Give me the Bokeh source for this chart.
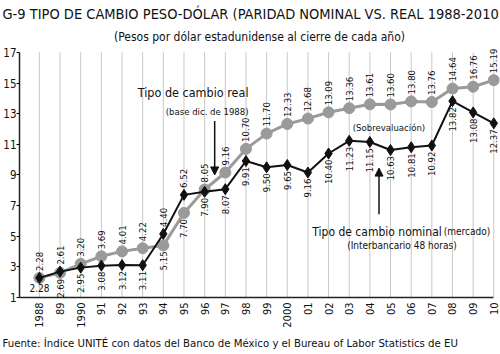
from math import pi
from bokeh.plotting import figure
from bokeh.models import (ColumnDataSource, LabelSet, Label, Arrow, NormalHead,
                          FixedTicker, Range1d, Title)
from bokeh.core.properties import value
from bokeh.embed import file_html
from bokeh.resources import INLINE

# ---------------- data ----------------
years = list(range(1988, 2011))
tick_labels = ['1988', '89', '1990', '91', '92', '93', '94', '95', '96', '97', '98',
               '99', '2000', '01', '02', '03', '04', '05', '06', '07', '08', '09', '10']
real = [2.28, 2.61, 3.20, 3.69, 4.01, 4.22, 4.40, 6.52, 8.05, 9.16, 10.70, 11.70,
        12.33, 12.68, 13.09, 13.36, 13.61, 13.60, 13.80, 13.76, 14.64, 14.76, 15.19]
real_labels = ['2.28', '2.61', '3.20', '3.69', '4.01', '4.22', '4.40', '6.52', '8.05',
               '9.16', '10.70', '11.70', '12.33', '12.68', '13.09', '13.36', '13.61',
               '13.60', '13.80', '13.76', '14.64', '16.76', '15.19']
nominal = [2.28, 2.69, 2.95, 3.08, 3.12, 3.11, 5.15, 7.70, 7.90, 8.07, 9.91, 9.50,
           9.65, 9.16, 10.40, 11.23, 11.15, 10.63, 10.81, 10.92, 13.82, 13.08, 12.37]
nominal_labels = ['2.28', '2.69', '2.95', '3.08', '3.12', '3.11', '5.15', '7.70', '7.90',
                  '8.07', '9.91', '9.50', '9.65', '9.16', '10.40', '11.23', '11.15',
                  '10.63', '10.81', '10.92', '13.82', '13.08', '12.37']
y_ticks = [1, 3, 5, 7, 9, 11, 13, 15, 17]

FONT = "DejaVu Sans Condensed, Roboto, sans-serif"
GRAY = "#9a9a9a"
BLACK = "#111111"

W, H = 500, 354
LEFT, RIGHT, TOP, BOTTOM = 17, 1, 47, 52
PXX = 20.74          # pixels per year
PXY = 15.625         # pixels per peso
X0 = 1988 - (37 - LEFT) / PXX
X1 = X0 + (W - LEFT - RIGHT) / PXX
Y0 = 1.0
Y1 = Y0 + (H - TOP - BOTTOM) / PXY


def dx(px):
    return X0 + (px - LEFT) / PXX


def dy(py):
    return Y0 + (H - BOTTOM - py) / PXY


p = figure(width=W, height=H, output_backend="svg", toolbar_location=None,
           x_range=Range1d(X0, X1), y_range=Range1d(Y0, Y1),
           min_border_left=LEFT, min_border_right=RIGHT,
           min_border_top=TOP, min_border_bottom=BOTTOM, title=None)
p.outline_line_color = None
p.background_fill_color = "white"
p.border_fill_color = "white"
p.xgrid.grid_line_color = None
p.ygrid.grid_line_color = None

# titles (first added sits next to the plot)
p.add_layout(Title(text="(Pesos por dólar estadunidense al cierre de cada año)",
                   align="center", offset=18, standoff=8, text_font=FONT,
                   text_font_size="12px", text_font_style="normal",
                   text_color=BLACK), "above")
p.add_layout(Title(text="G-9 TIPO DE CAMBIO PESO-DÓLAR (PARIDAD NOMINAL VS. REAL 1988-2010",
                   align="left", offset=-LEFT, standoff=3, text_font=FONT,
                   text_font_size="14.5px", text_font_style="normal",
                   text_color=BLACK), "above")

# axes
p.xaxis.ticker = FixedTicker(ticks=years)
p.xaxis.major_label_overrides = {y: t for y, t in zip(years, tick_labels)}
p.xaxis.major_label_orientation = pi / 2
p.xaxis.major_label_text_font = FONT
p.xaxis.major_label_text_font_size = "11px"
p.xaxis.major_label_text_color = BLACK
p.xaxis.major_label_standoff = 5
p.xaxis.major_tick_out = 0
p.xaxis.major_tick_in = 0
p.xaxis.minor_tick_line_color = None
p.xaxis.axis_line_color = "#222222"
p.xaxis.axis_line_width = 1.5
p.xaxis.bounds = (X0, years[-1])

p.yaxis.ticker = FixedTicker(ticks=y_ticks)
p.yaxis.major_label_text_font = FONT
p.yaxis.major_label_text_font_size = "11.5px"
p.yaxis.major_label_text_color = BLACK
p.yaxis.major_label_standoff = 0
p.yaxis.major_tick_out = 3
p.yaxis.major_tick_in = 0
p.yaxis.minor_tick_line_color = None
p.yaxis.axis_line_color = "#222222"
p.yaxis.axis_line_width = 1.5
p.yaxis.bounds = (y_ticks[0], y_ticks[-1])

# vertical grid lines at each year, spanning the value axis
p.segment(x0=years, y0=[y_ticks[0]] * len(years), x1=years,
          y1=[y_ticks[-1]] * len(years), line_color="#c8c8c8", line_width=1)

# series
src = ColumnDataSource(dict(x=years, real=real, nom=nominal))
p.line("x", "real", source=src, line_color=GRAY, line_width=3)
p.scatter("x", "real", source=src, marker="circle", size=11,
          fill_color=GRAY, line_color=GRAY)
p.line("x", "nom", source=src, line_color=BLACK, line_width=2)
p.scatter("x", "nom", source=src, marker="diamond", size=11,
          fill_color=BLACK, line_color=BLACK)

# value labels: real above the higher point, nominal below the lower point
top_y = [max(a, b) for a, b in zip(real, nominal)]
bot_y = [min(a, b) for a, b in zip(real, nominal)]
top_src = ColumnDataSource(dict(x=years, y=top_y, t=real_labels))
bot_src = ColumnDataSource(dict(x=years[1:], y=bot_y[1:], t=nominal_labels[1:]))
p.add_layout(LabelSet(x="x", y="y", text="t", source=top_src, angle=pi / 2,
                      y_offset=7, text_align="left", text_baseline="middle",
                      text_font=value(FONT), text_font_size="9.5px",
                      text_color=BLACK))
p.add_layout(LabelSet(x="x", y="y", text="t", source=bot_src, angle=pi / 2,
                      y_offset=-6, text_align="right", text_baseline="middle",
                      text_font=value(FONT), text_font_size="9.5px",
                      text_color=BLACK))
p.add_layout(Label(x=years[0], y=bot_y[0], text=nominal_labels[0], y_offset=-6,
                   text_align="center", text_baseline="top",
                   text_font=FONT, text_font_size="10px", text_color=BLACK))


# annotations
def lab(x, y, text, size, align="left", baseline="middle", style="normal"):
    p.add_layout(Label(x=x, y=y, text=text, text_align=align, text_baseline=baseline,
                       text_font=FONT, text_font_size=size,
                       text_font_style=style, text_color=BLACK))


lab(dx(247), dy(93), "Tipo de cambio real", "12.5px", align="right")
lab(dx(247), dy(112), "(base dic. de 1988)", "9.5px", align="right")
lab(dx(388), dy(129), "(Sobrevaluación)", "9.5px", align="center")
lab(dx(441), dy(235), "Tipo de cambio nominal", "12px", align="right", baseline="alphabetic")
lab(dx(443), dy(235), "(mercado)", "10px", baseline="alphabetic")
lab(dx(401), dy(249), "(Interbancario 48 horas)", "10px", align="center")

p.add_layout(Arrow(x_start=dx(213), y_start=dy(122), x_end=dx(213), y_end=dy(177),
                   line_color=BLACK, line_width=1.5,
                   end=NormalHead(size=8, fill_color=BLACK, line_color=BLACK)))
p.add_layout(Arrow(x_start=dx(378), y_start=dy(217), x_end=dx(378), y_end=dy(170),
                   line_color=BLACK, line_width=1.5,
                   end=NormalHead(size=8, fill_color=BLACK, line_color=BLACK)))

# footer
p.add_layout(Title(text="Fuente: Índice UNITÉ con datos del Banco de México y el Bureau of "
                        "Labor Statistics de EU",
                   align="left", text_font=FONT, text_font_size="11.3px",
                   text_font_style="normal", text_color=BLACK, standoff=9,
                   offset=-LEFT), "below")

open("out.html", "w").write(file_html(p, INLINE))
